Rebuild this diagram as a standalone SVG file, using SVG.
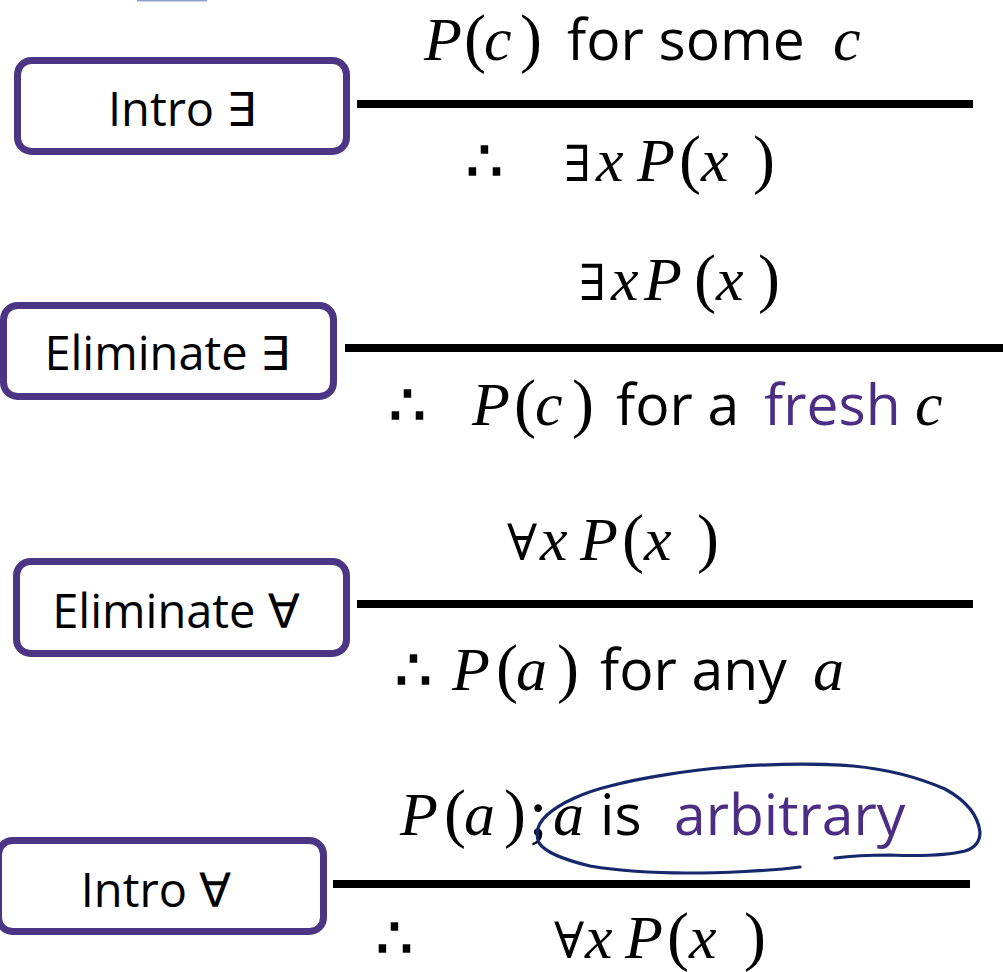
<svg xmlns="http://www.w3.org/2000/svg" width="1003" height="972" viewBox="0 0 1003 972">
<style>
.box{fill:#fff;stroke:#4b3584;stroke-width:7}
.lbl{font-family:"Open Sans","Noto Sans","DejaVu Sans",sans-serif;font-size:47px;text-anchor:middle;fill:#000}
.rule{stroke:#000;stroke-width:8}
.f{fill:#000}
.w{font-family:"Open Sans","Noto Sans",sans-serif;font-size:57px}
.mi{font-family:"Liberation Serif","DejaVu Serif",serif;font-style:italic;font-size:62px}
.mp{font-family:"Liberation Serif","DejaVu Serif",serif;font-size:66px}
.mo{font-family:"DejaVu Serif",serif;font-size:50px}
.tf{font-family:"DejaVu Serif",serif;font-size:58px;stroke:#000;stroke-width:1.5}
.pu{fill:#4b2e83}
.ink{fill:none;stroke:#15286b;stroke-width:3.2;stroke-linecap:round;stroke-linejoin:round}
</style>
<rect x="137" y="-10" width="70" height="11.5" fill="#8ea2cf"/>
<g id="connectors">
<line class="rule" x1="357" y1="104" x2="973" y2="104"/>
<line class="rule" x1="345" y1="348" x2="1003" y2="348"/>
<line class="rule" x1="357" y1="604" x2="973" y2="604"/>
<line class="rule" x1="333" y1="884" x2="970" y2="884"/>
</g>
<g id="node-intro-exists">
<rect class="box" x="17.5" y="60.5" width="329" height="91" rx="14"/>
<text class="lbl" x="182" y="126">Intro ∃</text>
</g>
<g id="node-elim-exists">
<rect class="box" x="3.5" y="305.5" width="330" height="91" rx="14"/>
<text class="lbl" x="167" y="370">Eliminate ∃</text>
</g>
<g id="node-elim-forall">
<rect class="box" x="16.5" y="561.5" width="330" height="92" rx="14"/>
<text class="lbl" x="176" y="628">Eliminate ∀</text>
</g>
<g id="node-intro-forall">
<rect class="box" x="-1.5" y="840.5" width="325" height="91" rx="14"/>
<text class="lbl" x="156" y="907">Intro ∀</text>
</g>
<g id="rule1-text" class="f">
<text y="60"><tspan class="mi" x="424">P</tspan><tspan class="mp" x="464">(</tspan><tspan class="mi" x="484">c</tspan><tspan class="mp" x="520">)</tspan><tspan class="w" x="567">for some</tspan><tspan class="mi" x="833">c</tspan></text>
<text y="181"><tspan class="tf" x="466">∴</tspan><tspan class="mo" x="564">∃</tspan><tspan class="mi" x="596">x</tspan><tspan class="mi" x="637">P</tspan><tspan class="mp" x="679">(</tspan><tspan class="mi" x="701">x</tspan><tspan class="mp" x="753">)</tspan></text>
</g>
<g id="rule2-text" class="f">
<text y="300"><tspan class="mo" x="579">∃</tspan><tspan class="mi" x="611">x</tspan><tspan class="mi" x="644">P</tspan><tspan class="mp" x="694">(</tspan><tspan class="mi" x="716">x</tspan><tspan class="mp" x="758">)</tspan></text>
<text y="425"><tspan class="tf" x="389">∴</tspan><tspan class="mi" x="472">P</tspan><tspan class="mp" x="514">(</tspan><tspan class="mi" x="535">c</tspan><tspan class="mp" x="572">)</tspan><tspan class="w" x="616">for a</tspan><tspan class="w pu" x="764">fresh</tspan><tspan class="mi" x="915">c</tspan></text>
</g>
<g id="rule3-text" class="f">
<text y="560"><tspan class="mo" x="507">∀</tspan><tspan class="mi" x="540">x</tspan><tspan class="mi" x="580">P</tspan><tspan class="mp" x="622">(</tspan><tspan class="mi" x="644">x</tspan><tspan class="mp" x="697">)</tspan></text>
<text y="690"><tspan class="tf" x="395">∴</tspan><tspan class="mi" x="452">P</tspan><tspan class="mp" x="496">(</tspan><tspan class="mi" x="516">a</tspan><tspan class="mp" x="557">)</tspan><tspan class="w" x="600">for any</tspan><tspan class="mi" x="813">a</tspan></text>
</g>
<g id="rule4-text" class="f">
<text y="835"><tspan class="mi" x="400">P</tspan><tspan class="mp" x="444">(</tspan><tspan class="mi" x="464">a</tspan><tspan class="mp" x="504">)</tspan><tspan class="mp" x="529">;</tspan><tspan class="mi" x="553">a</tspan><tspan class="w" x="600">is</tspan><tspan class="w pu" x="674">arbitrary</tspan></text>
<text y="958"><tspan class="tf" x="376">∴</tspan><tspan class="mo" x="554">∀</tspan><tspan class="mi" x="585">x</tspan><tspan class="mi" x="625">P</tspan><tspan class="mp" x="667">(</tspan><tspan class="mi" x="689">x</tspan><tspan class="mp" x="744">)</tspan></text>
</g>
<path class="ink" d="M800,867 C770,871 720,873 687,873 C655,873 620,871 590,866 C565,860 545,852 539,843 C535,833 538,823 547,815 C560,803 585,792 610,786 C640,778 690,770 730,767 C770,764 815,763 853,766 C885,769 915,776 945,789 C965,800 978,815 980,832 C980,842 975,848 965,851 C945,856 915,856 890,855 C870,855 850,856 835,858"/>
</svg>
